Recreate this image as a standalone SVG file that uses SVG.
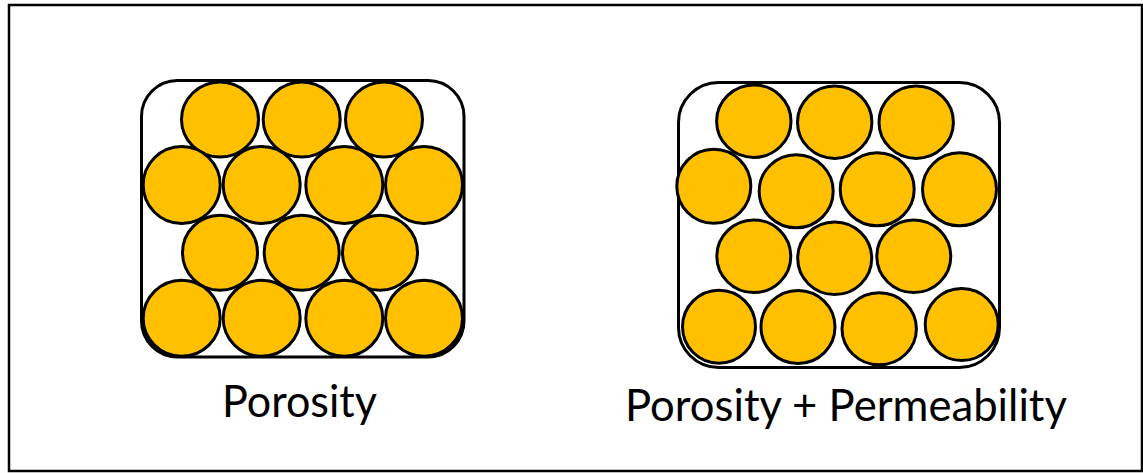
<svg xmlns="http://www.w3.org/2000/svg" width="1143" height="473" viewBox="0 0 1143 473">
<style>
.frame{fill:#fff;stroke:#000;stroke-width:2.5}
.box{fill:#fff;stroke:#000;stroke-width:3}
.g{fill:#FFC000;stroke:#000;stroke-width:3}
.lbl{font-family:"Lato","Open Sans","Liberation Sans",sans-serif;font-size:44px;fill:#000}
</style>
<rect class="frame" x="9" y="5" width="1133" height="466"/>
<g id="porosity">
<rect class="box" x="141.5" y="80.5" width="322.5" height="276.5" rx="36"/>
<ellipse class="g" cx="220" cy="119.5" rx="38.5" ry="37.5"/>
<ellipse class="g" cx="301.7" cy="119.5" rx="38.5" ry="37.5"/>
<ellipse class="g" cx="384" cy="119.5" rx="38.5" ry="37.5"/>
<ellipse class="g" cx="181.7" cy="185" rx="38.5" ry="38.5"/>
<ellipse class="g" cx="261.7" cy="185" rx="38.5" ry="38.5"/>
<ellipse class="g" cx="344.3" cy="185" rx="38.5" ry="38.5"/>
<ellipse class="g" cx="424" cy="185" rx="38.5" ry="38.5"/>
<ellipse class="g" cx="220" cy="252.7" rx="37.5" ry="37.5"/>
<ellipse class="g" cx="301.7" cy="252.7" rx="37.5" ry="37.5"/>
<ellipse class="g" cx="380" cy="252.7" rx="37.5" ry="37.5"/>
<ellipse class="g" cx="181.7" cy="318.3" rx="38.5" ry="38"/>
<ellipse class="g" cx="261.7" cy="318.3" rx="38.5" ry="38"/>
<ellipse class="g" cx="344.3" cy="318.3" rx="38.5" ry="38"/>
<ellipse class="g" cx="424" cy="318.3" rx="38.5" ry="38"/>
<text class="lbl" x="222" y="417" textLength="155" lengthAdjust="spacingAndGlyphs">Porosity</text>
</g>
<g id="porosity-permeability">
<rect class="box" x="678.5" y="82.5" width="321" height="285" rx="40"/>
<ellipse class="g" cx="753.8" cy="121.2" rx="37.2" ry="36.2"/>
<ellipse class="g" cx="834.7" cy="122.2" rx="37.2" ry="36.2"/>
<ellipse class="g" cx="916.2" cy="122.2" rx="37.2" ry="36.2"/>
<ellipse class="g" cx="713.8" cy="186.3" rx="37" ry="37"/>
<ellipse class="g" cx="796.2" cy="191.3" rx="37" ry="36.5"/>
<ellipse class="g" cx="877.2" cy="189.3" rx="37" ry="36.5"/>
<ellipse class="g" cx="959.5" cy="189.3" rx="37" ry="36.5"/>
<ellipse class="g" cx="753.8" cy="256.3" rx="37" ry="36.3"/>
<ellipse class="g" cx="834.7" cy="258.3" rx="37" ry="36.3"/>
<ellipse class="g" cx="913.8" cy="256.3" rx="37" ry="36.3"/>
<ellipse class="g" cx="719" cy="326.7" rx="36.5" ry="36.5"/>
<ellipse class="g" cx="798" cy="327" rx="37" ry="36.5"/>
<ellipse class="g" cx="879.2" cy="328.8" rx="37.2" ry="36"/>
<ellipse class="g" cx="961.7" cy="324.5" rx="36.5" ry="36"/>
<text class="lbl" x="625" y="421" textLength="442" lengthAdjust="spacingAndGlyphs">Porosity + Permeability</text>
</g>
</svg>
